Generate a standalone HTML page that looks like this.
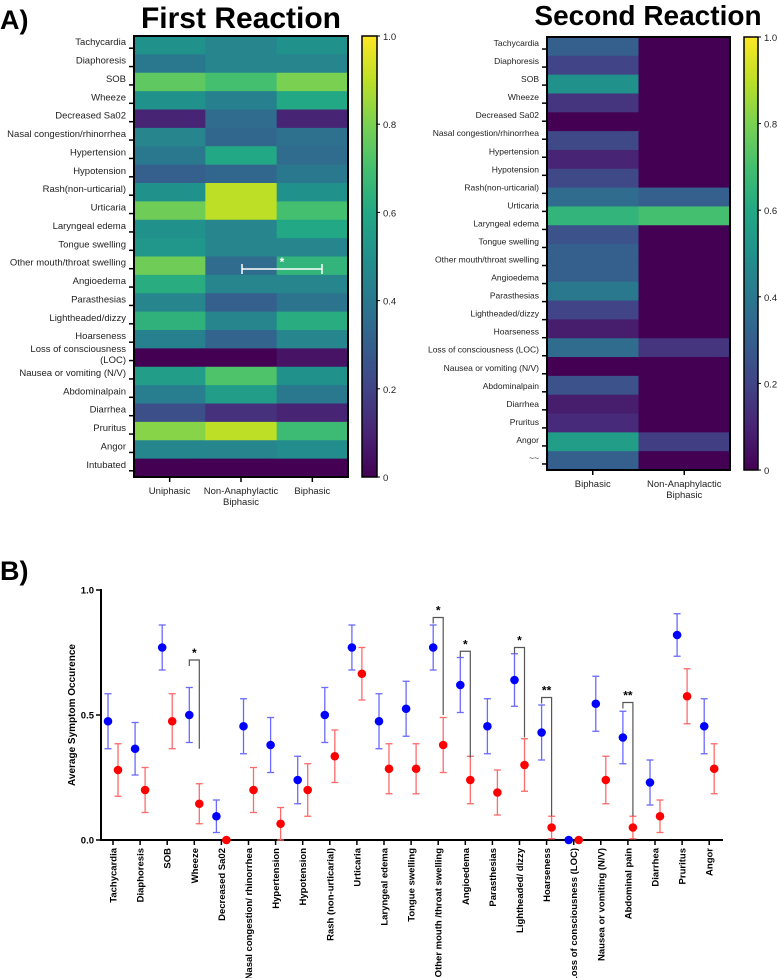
<!DOCTYPE html>
<html><head><meta charset="utf-8">
<style>
html,body{margin:0;padding:0;background:#fff;}
svg{display:block;font-family:"Liberation Sans",Arial,sans-serif;}
</style></head>
<body>
<svg id="fig" width="777" height="978" viewBox="0 0 777 978" xmlns="http://www.w3.org/2000/svg">
<text x="0" y="29" font-size="27" font-weight="bold">A)</text>
<text x="241" y="28" font-size="30" font-weight="bold" text-anchor="middle">First Reaction</text>
<text x="648" y="25" font-size="28" font-weight="bold" text-anchor="middle">Second Reaction</text>
<text x="0" y="580" font-size="27" font-weight="bold">B)</text>
<g id="h1"></g>
<g id="h2"></g>
<g id="pb"></g>
</svg>
<script>
const NS="http://www.w3.org/2000/svg";
const rows1=["Tachycardia","Diaphoresis","SOB","Wheeze","Decreased Sa02","Nasal congestion/rhinorrhea","Hypertension","Hypotension","Rash(non-urticarial)","Urticaria","Laryngeal edema","Tongue swelling","Other mouth/throat swelling","Angioedema","Parasthesias","Lightheaded/dizzy","Hoarseness","Loss of consciousness|(LOC)","Nausea or vomiting (N/V)","Abdominalpain","Diarrhea","Pruritus","Angor","Intubated"];
const cols1=["Uniphasic","Non-Anaphylactic|Biphasic","Biphasic"];
const uniphasic1=[.5,.4,.75,.5,.1,.45,.4,.3,.5,.78,.5,.52,.78,.62,.45,.64,.43,0,.55,.42,.24,.82,.46,0];
const nonAna1=[.45,.45,.7,.43,.35,.33,.6,.33,.9,.9,.45,.45,.35,.45,.3,.45,.32,0,.72,.55,.14,.9,.45,0];
const biphasic1=[.5,.45,.8,.6,.1,.37,.35,.4,.5,.7,.6,.45,.65,.45,.38,.62,.45,.05,.5,.4,.1,.68,.48,0];
const rows2=["Tachycardia","Diaphoresis","SOB","Wheeze","Decreased Sa02","Nasal congestion/rhinorrhea","Hypertension","Hypotension","Rash(non-urticarial)","Urticaria","Laryngeal edema","Tongue swelling","Other mouth/throat swelling","Angioedema","Parasthesias","Lightheaded/dizzy","Hoarseness","Loss of consciousness (LOC)","Nausea or vomiting (N/V)","Abdominalpain","Diarrhea","Pruritus","Angor","~~"];
const cols2=["Biphasic","Non-Anaphylactic|Biphasic"];
const biphasic2=[.3,.2,.5,.15,0,.22,.1,.22,.35,.65,.25,.3,.3,.4,.2,.08,.35,0,.25,.08,.12,.55,.3];
const nonAna2=[0,0,0,0,0,0,0,0,.3,.7,0,0,0,0,0,0,.15,0,0,0,0,.18,0];
const cbTicks=[0,0.2,0.4,0.6,0.8,1.0];
const cats=["Tachycardia","Diaphoresis","SOB","Wheeze","Decreased Sa02","Nasal congestion/ rhinorrhea","Hypertension","Hypotension","Rash (non-urticarial)","Urticaria","Laryngeal edema","Tongue swelling","Other mouth /throat swelling","Angioedema","Parasthesias","Lightheaded/ dizzy","Hoarseness","Loss of consciousness (LOC)","Nausea or vomiting (N/V)","Abdominal pain","Diarrhea","Pruritus","Angor"];
const blueMean=[.475,.365,.77,.5,.095,.455,.38,.24,.5,.77,.475,.525,.77,.62,.455,.64,.43,0,.545,.41,.23,.82,.455];
const blueErr=[.11,.105,.09,.11,.065,.11,.11,.095,.11,.09,.11,.11,.09,.11,.11,.105,.11,0,.11,.105,.09,.085,.11];
const redMean=[.28,.2,.475,.145,0,.2,.065,.2,.335,.665,.285,.285,.38,.24,.19,.3,.05,0,.24,.05,.095,.575,.285];
const redErr=[.105,.09,.11,.08,0,.09,.065,.105,.105,.105,.1,.1,.11,.095,.09,.105,.045,0,.095,.045,.065,.11,.1];
const sigIdx=[3,12,13,15,16,19];
const sigTop=[.72,.89,.755,.77,.57,.55];
const sigBottom=[.365,.5,.33,.41,.095,.095];
const sigLabel=["*","*","*","*","**","**"];
const yTicksB=[0,0.5,1.0];
const yTickLabB=["0.0","0.5","1.0"];

const stops=["#440154","#482475","#414487","#355f8d","#2a788e","#21918c","#22a884","#44bf70","#7ad151","#bddf26","#fde725"];
function hx(c){return [1,3,5].map(i=>parseInt(c.substr(i,2),16));}
function viridis(v){v=Math.max(0,Math.min(1,v));const p=v*10,i=Math.min(9,Math.floor(p)),f=p-i;const a=hx(stops[i]),b=hx(stops[i+1]);return "rgb("+a.map((x,k)=>Math.round(x+(b[k]-x)*f)).join(",")+")";}
function el(parent,tag,attrs,text){const e=document.createElementNS(NS,tag);for(const k in attrs)e.setAttribute(k,attrs[k]);if(text!==undefined)e.textContent=text;parent.appendChild(e);return e;}

function heatmap(g,cfg){
  const {x0,y0,w,h,rows,nData,cols,series,cb}=cfg;
  const cw=w/series.length, rh=h/nData;
  series.forEach((s,ci)=>{s.forEach((v,ri)=>{
    const r=el(g,"rect",{x:x0+ci*cw,y:y0+ri*rh,width:cw+0.5,height:rh+0.5,fill:viridis(v)});
    
    
  });});
  el(g,"rect",{x:x0,y:y0,width:w,height:h,fill:"none",stroke:"#000","stroke-width":2});
  const lh=h/rows.length;
  rows.forEach((lab,i)=>{
    const y=y0+(i+0.5)*lh;
    el(g,"line",{x1:x0-5,x2:x0-1,y1:y+3,y2:y+3,stroke:"#000","stroke-width":1.5});
    const parts=lab.split("|");
    parts.forEach((p,k)=>{
      const t=el(g,"text",{x:x0-8,y:y+2+(k-(parts.length-1)/2)*11-2,"font-size":cfg.fs,"text-anchor":"end",fill:"#222"},p);
      
      
    });
  });
  cols.forEach((lab,i)=>{
    const x=x0+(i+0.5)*cw;
    el(g,"line",{x1:x,x2:x,y1:y0+h,y2:y0+h+5,stroke:"#000","stroke-width":1.5});
    lab.split("|").forEach((p,k)=>{
      const t=el(g,"text",{x:x,y:y0+h+17+k*11,"font-size":9.5,"text-anchor":"middle",fill:"#222"},p);
      
      
    });
  });
  // colorbar
  const id="grad"+cb.x;
  const defs=el(g,"defs",{});
  const lg=el(defs,"linearGradient",{id:id,x1:0,y1:1,x2:0,y2:0});
  stops.forEach((c,i)=>el(lg,"stop",{offset:i/10,"stop-color":c}));
  const cbr=el(g,"rect",{x:cb.x,y:y0,width:cb.w,height:h,fill:"url(#"+id+")",stroke:"#000","stroke-width":1.5});
  
  
  cbTicks.forEach(t=>{
    const y=y0+h-t*h;
    el(g,"line",{x1:cb.x+cb.w,x2:cb.x+cb.w+3,y1:y,y2:y,stroke:"#000"});
    const tl=el(g,"text",{x:cb.x+cb.w+6,y:y+4,"font-size":9.5,fill:"#222"},t===0?"0":t.toFixed(1));
    
    
  });
}
heatmap(document.getElementById("h1"),{x0:134,y0:36,w:214,h:441,rows:rows1,nData:24,cols:cols1,series:[uniphasic1,nonAna1,biphasic1],cb:{x:362,w:15},fs:9.5});
heatmap(document.getElementById("h2"),{x0:547,y0:37,w:183,h:433,rows:rows2,nData:23,cols:cols2,series:[biphasic2,nonAna2],cb:{x:744,w:14},fs:8.5});
// white significance bracket on first heatmap
(function(){const g=document.getElementById("h1");
 el(g,"line",{x1:242,x2:322,y1:269,y2:269,stroke:"#fff","stroke-width":1.5});
 el(g,"line",{x1:242,x2:242,y1:264,y2:274,stroke:"#fff","stroke-width":1.5});
 el(g,"line",{x1:322,x2:322,y1:264,y2:274,stroke:"#fff","stroke-width":1.5});
 const s=el(g,"text",{x:282,y:266,"font-size":12,fill:"#fff","text-anchor":"middle","font-weight":"bold"},"*");
 
 
})();

// Panel B
(function(){
 const g=document.getElementById("pb");
 const X0=101,X1=723,Y0=840,Y1=590;
 const xAt=i=>113+i*27.1;
 const yAt=v=>Y0-(v)*(Y0-Y1);
 el(g,"line",{x1:X0,x2:X0,y1:Y1-1,y2:Y0+1,stroke:"#000","stroke-width":2});
 el(g,"line",{x1:X0-1,x2:X1,y1:Y0,y2:Y0,stroke:"#000","stroke-width":2});
 yTicksB.forEach((t,i)=>{
  const y=yAt(t);
  el(g,"line",{x1:X0-5,x2:X0,y1:y,y2:y,stroke:"#000","stroke-width":1.5});
  const tl=el(g,"text",{x:X0-7,y:y+3.5,"font-size":9.5,"font-weight":"bold","text-anchor":"end"},yTickLabB[i]);
  
  
 });
 const yt=el(g,"text",{x:0,y:0,"font-size":10,"font-weight":"bold","text-anchor":"middle",transform:"translate(75,715) rotate(-90)"},"Average Symptom Occurence");
 
 
 cats.forEach((c,i)=>{
  const x=xAt(i);
  el(g,"line",{x1:x,x2:x,y1:Y0,y2:Y0+5,stroke:"#000","stroke-width":1.5});
  const t=el(g,"text",{x:0,y:0,"font-size":9.5,"font-weight":"bold","text-anchor":"end",transform:"translate("+(x+3.5)+","+(Y0+8)+") rotate(-90)"},c);
  
  
 });
 function series(mean,err,dx,col,light,name){
  mean.forEach((m,i)=>{
   const x=xAt(i)+dx;
   if(err[i]>0){
    const hi=yAt(m+err[i]),lo=yAt(Math.max(0,m-err[i]));
    el(g,"line",{x1:x,x2:x,y1:hi,y2:lo,stroke:light,"stroke-width":1.3});
    el(g,"line",{x1:x-3.5,x2:x+3.5,y1:hi,y2:hi,stroke:light,"stroke-width":1.3});
    el(g,"line",{x1:x-3.5,x2:x+3.5,y1:lo,y2:lo,stroke:light,"stroke-width":1.3});
   }
   const c=el(g,"circle",{cx:x,cy:yAt(m),r:4.3,fill:col});
   
   
  });
 }
 series(blueMean,blueErr,-5,"#0000ff","#6a6aff","blue-point");
 series(redMean,redErr,5,"#ff0000","#ff6a6a","red-point");
 sigIdx.forEach((ci,k)=>{
  const xl=xAt(ci)-5,xr=xAt(ci)+5,yt=yAt(sigTop[k]);
  const blueTop=yAt(blueMean[ci]+blueErr[ci]);
  el(g,"polyline",{points:xl+","+Math.min(blueTop,yt+6)+" "+xl+","+yt+" "+xr+","+yt+" "+xr+","+yAt(sigBottom[k]),fill:"none",stroke:"#555","stroke-width":1.2});
  const s=el(g,"text",{x:xAt(ci),y:yt-3,"font-size":12,"font-weight":"bold","text-anchor":"middle"},sigLabel[k]);
  
  
 });
})();
</script>
</body></html>
